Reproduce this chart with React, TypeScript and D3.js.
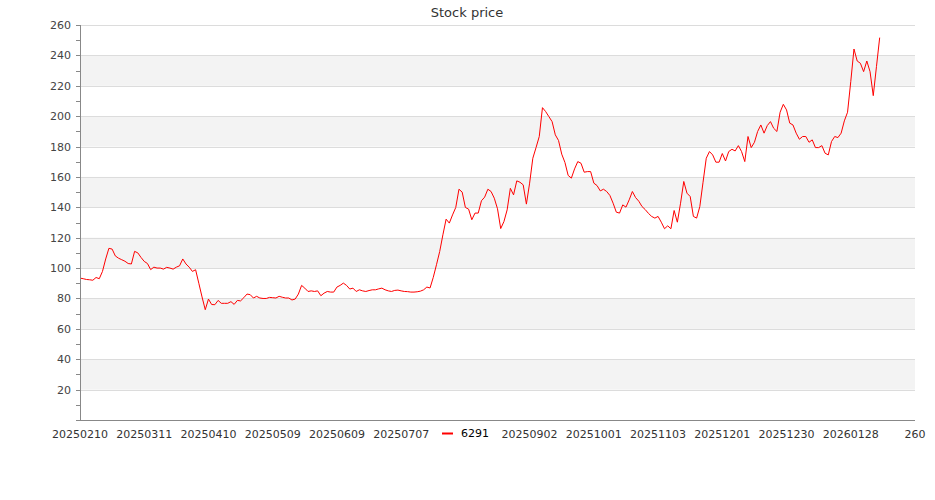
import React from "react";
import * as d3 from "d3";

const TITLE = "Stock price";
const SERIES_NAME = "6291";

const prices: number[] = [
  93.4, 93, 92.5, 92.3, 92, 93.8, 93, 97.8, 106, 113,
  112.5, 108, 106.5, 105.5, 104.5, 103, 102.7, 111, 110, 107,
  104.4, 103, 99, 100.6, 100, 100, 99.3, 100.5, 100, 99.3,
  100.6, 101.5, 106, 102.7, 100.6, 97.8, 98.9, 90, 81, 72.6,
  79.6, 76, 75.9, 78.7, 76.8, 76.8, 76.8, 77.9, 76.1, 78.7,
  78.4, 80.5, 82.9, 82.5, 80.3, 81.4, 80.3, 80, 80, 80.7,
  80.5, 80.3, 81.4, 80.8, 80.3, 80.3, 79, 79.6, 82.9, 88.6,
  86.8, 84.6, 85, 84.6, 85, 81.8, 83.5, 84.6, 84.2, 84.2,
  87.5, 88.6, 90.1, 88.6, 86.2, 86.8, 84.6, 85.7, 85, 84.6,
  85.2, 85.7, 85.7, 86.3, 86.8, 85.7, 85, 84.6, 85.3, 85.5,
  85, 84.6, 84.5, 84.2, 84.2, 84.4, 84.8, 85.7, 87.5, 86.9,
  93.9, 102.2, 110.9, 121.9, 132.2, 129.6, 135, 139.9, 151.9, 150,
  139.9, 138.8, 131.8, 136.2, 136.2, 144.3, 146.7, 151.9, 150.4, 146,
  139, 126, 130.6, 138.3, 152.5, 148.2, 157.4, 156.5, 154.8, 142.1,
  155.9, 172.3, 179.3, 186.6, 205.6, 203, 199.7, 196.4, 187.7, 184,
  175, 169.5, 161, 159.2, 165.3, 170.1, 169, 163.1, 163.5, 163.5,
  155.9, 154.3, 150.8, 151.9, 150.4, 147.8, 142.7, 136.8, 136.2, 141.6,
  140.1, 144.9, 150.4, 146.4, 144, 140.5, 138.5, 136, 134, 132.9,
  134, 130.2, 125.9, 127.8, 125.9, 137.9, 130.2, 142.7, 157, 149.3,
  147.1, 134, 132.9, 140.5, 156.5, 172.3, 176.7, 174.5, 169.7, 169.7,
  175.4, 170.5, 176.7, 178.2, 177.1, 180.6, 176.7, 170.1, 186.6, 179.3,
  182.8, 189.9, 194.2, 188.8, 193.8, 196.4, 192, 189.9, 202.6, 207.8,
  204.1, 195.4, 194.2, 188.8, 184.8, 186.6, 186.6, 182.8, 184.4, 179.3,
  179.3, 180.6, 175.6, 174.5, 183.3, 186.6, 185.9, 188.8, 196.9, 202.6,
  222.8, 244.2, 236.3, 234.8, 229.3, 236.3, 229.3, 213.5, 232.6, 251.7,
];

const xTickIndices: number[] = [0, 20, 40, 60, 80, 100, 120, 140, 160, 180, 200, 220, 240, 260];
const xTickLabels: string[] = [
  "20250210", "20250311", "20250410", "20250509", "20250609", "20250707", "20250805",
  "20250902", "20251001", "20251103", "20251201", "20251230", "20260128", "260",
];
const yMajorTicks: number[] = [20, 40, 60, 80, 100, 120, 140, 160, 180, 200, 220, 240, 260];
const yMinorTicks: number[] = d3.range(0, 261, 10);
const bandStarts: number[] = [20, 60, 100, 140, 180, 220];

const W = 935;
const H = 500;
const L = 80;
const R = 915;
const T = 25;
const B = 420;
const FONT = "DejaVu Sans, sans-serif";
const LEGEND_X0 = 439;
const LEGEND_X1 = 495;

export default function App() {
  const x = d3.scaleLinear().domain([0, 260]).range([L, R]);
  const y = d3.scaleLinear().domain([0, 260]).range([B, T]);
  const line = d3
    .line<number>()
    .x((_, i) => x(i))
    .y((d) => y(d));

  // tick labels hidden behind the legend box are not drawn
  const visibleTicks = xTickIndices
    .map((t, i) => ({ t, label: xTickLabels[i] }))
    .filter(({ t }) => x(t) < LEGEND_X0 - 10 || x(t) > LEGEND_X1 + 10);

  return (
    <svg
      width={W}
      height={H}
      style={{ position: "absolute", left: 0, top: 0, background: "#fff" }}
      fontFamily={FONT}
    >
      <rect x={0} y={0} width={W} height={H} fill="#fff" />
      <text x={467} y={17} textAnchor="middle" fontSize={13} fill="#333">
        {TITLE}
      </text>
      {bandStarts.map((b) => (
        <rect key={b} x={L} y={y(b + 20)} width={R - L} height={y(b) - y(b + 20)} fill="#f3f3f3" />
      ))}
      {yMajorTicks.map((t) => (
        <line key={t} x1={L} x2={R} y1={Math.round(y(t)) + 0.5} y2={Math.round(y(t)) + 0.5} stroke="#dcdcdc" />
      ))}
      <path d={line(prices) || ""} fill="none" stroke="#ff0000" strokeWidth={1} strokeLinejoin="round" />
      <line x1={L + 0.5} x2={L + 0.5} y1={T} y2={B} stroke="#888" />
      <line x1={L} x2={R} y1={B + 0.5} y2={B + 0.5} stroke="#888" />
      {yMinorTicks.map((t) => (
        <line key={t} x1={L - 4} x2={L} y1={Math.round(y(t)) + 0.5} y2={Math.round(y(t)) + 0.5} stroke="#888" />
      ))}
      {yMajorTicks.map((t) => (
        <text key={t} x={71} y={y(t) + 4} textAnchor="end" fontSize={11} fill="#444">
          {t}
        </text>
      ))}
      {visibleTicks.map(({ t, label }) => (
        <text key={t} x={x(t)} y={438} textAnchor="middle" fontSize={11} fill="#333">
          {label}
        </text>
      ))}
      <g>
        <rect x={LEGEND_X0} y={424} width={LEGEND_X1 - LEGEND_X0} height={18} fill="#fff" />
        <line x1={442} x2={453} y1={433.5} y2={433.5} stroke="#ff0000" strokeWidth={2} />
        <text x={461} y={437} fontSize={11} fill="#000">
          {SERIES_NAME}
        </text>
      </g>
    </svg>
  );
}
